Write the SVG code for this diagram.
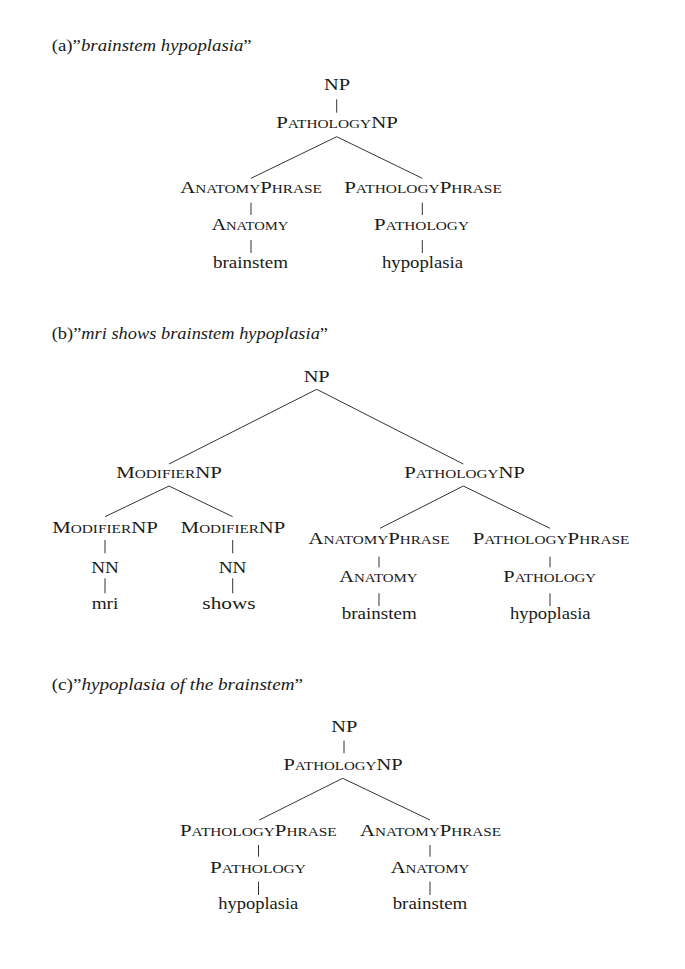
<svg xmlns="http://www.w3.org/2000/svg" width="685" height="969" viewBox="0 0 685 969">
<style>
text{font-family:"Liberation Serif","DejaVu Serif",serif;font-size:17px;fill:#1a1a1a;text-anchor:middle}
.sc{font-size:12.5px}
.title{text-anchor:start}
.it{font-style:italic}
#connectors line{stroke:#333;stroke-width:1}
</style>
<rect width="685" height="969" fill="#fff"/>
<g id="connectors">
<line x1="336.7" y1="99.3" x2="336.7" y2="112.7"/>
<line x1="336.7" y1="136.7" x2="251" y2="178.3"/>
<line x1="336.7" y1="136.7" x2="422.3" y2="178.3"/>
<line x1="251" y1="202.7" x2="251" y2="215"/>
<line x1="422.3" y1="202.7" x2="422.3" y2="215"/>
<line x1="251" y1="240" x2="251" y2="253"/>
<line x1="422.3" y1="240" x2="422.3" y2="253"/>
<line x1="316.7" y1="389.3" x2="169" y2="464"/>
<line x1="316.7" y1="389.3" x2="463.3" y2="464"/>
<line x1="169" y1="486" x2="105" y2="516.7"/>
<line x1="169" y1="486" x2="232.7" y2="516.7"/>
<line x1="105" y1="540" x2="105" y2="553.3"/>
<line x1="232.7" y1="540" x2="232.7" y2="553.3"/>
<line x1="105" y1="578.3" x2="105" y2="593.3"/>
<line x1="232.7" y1="578.3" x2="232.7" y2="593.3"/>
<line x1="463.3" y1="486" x2="380" y2="528.3"/>
<line x1="463.3" y1="486" x2="550" y2="528.3"/>
<line x1="379" y1="556.7" x2="379" y2="567.3"/>
<line x1="550" y1="556.7" x2="550" y2="567.3"/>
<line x1="379" y1="593.3" x2="379" y2="606"/>
<line x1="550" y1="593.3" x2="550" y2="606"/>
<line x1="344" y1="740.7" x2="344" y2="753.3"/>
<line x1="342.7" y1="778.3" x2="259.3" y2="820"/>
<line x1="342.7" y1="778.3" x2="430" y2="820"/>
<line x1="258.5" y1="845" x2="258.5" y2="856.7"/>
<line x1="430" y1="845" x2="430" y2="856.7"/>
<line x1="258.5" y1="881.7" x2="258.5" y2="895"/>
<line x1="430" y1="881.7" x2="430" y2="895"/>
</g>
<g id="title-a"><text class="title" x="51.7" y="51" textLength="200" lengthAdjust="spacingAndGlyphs">(a)”<tspan class="it">brainstem hypoplasia</tspan>”</text></g>
<g id="a-np"><text x="337" y="90" textLength="26" lengthAdjust="spacingAndGlyphs">NP</text></g>
<g id="a-pathologynp"><text x="337" y="128.3" textLength="121.7" lengthAdjust="spacingAndGlyphs">P<tspan class="sc">ATHOLOGY</tspan>NP</text></g>
<g id="a-anatomyphrase"><text x="251" y="193.3" textLength="141.7" lengthAdjust="spacingAndGlyphs">A<tspan class="sc">NATOMY</tspan>P<tspan class="sc">HRASE</tspan></text></g>
<g id="a-pathologyphrase"><text x="423" y="193.3" textLength="157.7" lengthAdjust="spacingAndGlyphs">P<tspan class="sc">ATHOLOGY</tspan>P<tspan class="sc">HRASE</tspan></text></g>
<g id="a-anatomy"><text x="250" y="230" textLength="76.7" lengthAdjust="spacingAndGlyphs">A<tspan class="sc">NATOMY</tspan></text></g>
<g id="a-pathology"><text x="421.5" y="230" textLength="95" lengthAdjust="spacingAndGlyphs">P<tspan class="sc">ATHOLOGY</tspan></text></g>
<g id="a-brainstem"><text x="250.5" y="268.3" textLength="75" lengthAdjust="spacingAndGlyphs">brainstem</text></g>
<g id="a-hypoplasia"><text x="422.5" y="268" textLength="81" lengthAdjust="spacingAndGlyphs">hypoplasia</text></g>
<g id="title-b"><text class="title" x="51.7" y="339" textLength="276.3" lengthAdjust="spacingAndGlyphs">(b)”<tspan class="it">mri shows brainstem hypoplasia</tspan>”</text></g>
<g id="b-np"><text x="316.7" y="382" textLength="26" lengthAdjust="spacingAndGlyphs">NP</text></g>
<g id="b-modifiernp"><text x="169" y="478.3" textLength="105.7" lengthAdjust="spacingAndGlyphs">M<tspan class="sc">ODIFIER</tspan>NP</text></g>
<g id="b-pathologynp"><text x="464.5" y="478.3" textLength="120.7" lengthAdjust="spacingAndGlyphs">P<tspan class="sc">ATHOLOGY</tspan>NP</text></g>
<g id="b-modifiernp-1"><text x="105" y="532.7" textLength="105.7" lengthAdjust="spacingAndGlyphs">M<tspan class="sc">ODIFIER</tspan>NP</text></g>
<g id="b-modifiernp-2"><text x="233" y="532.7" textLength="104.3" lengthAdjust="spacingAndGlyphs">M<tspan class="sc">ODIFIER</tspan>NP</text></g>
<g id="b-nn-1"><text x="105" y="573.3" textLength="27.7" lengthAdjust="spacingAndGlyphs">NN</text></g>
<g id="b-nn-2"><text x="232.5" y="573.3" textLength="27.7" lengthAdjust="spacingAndGlyphs">NN</text></g>
<g id="b-mri"><text x="105" y="609.3" textLength="26.7" lengthAdjust="spacingAndGlyphs">mri</text></g>
<g id="b-shows"><text x="229" y="609.3" textLength="53.3" lengthAdjust="spacingAndGlyphs">shows</text></g>
<g id="b-anatomyphrase"><text x="379" y="544.3" textLength="141" lengthAdjust="spacingAndGlyphs">A<tspan class="sc">NATOMY</tspan>P<tspan class="sc">HRASE</tspan></text></g>
<g id="b-pathologyphrase"><text x="551" y="544.3" textLength="156.7" lengthAdjust="spacingAndGlyphs">P<tspan class="sc">ATHOLOGY</tspan>P<tspan class="sc">HRASE</tspan></text></g>
<g id="b-anatomy"><text x="378.5" y="581.7" textLength="78.3" lengthAdjust="spacingAndGlyphs">A<tspan class="sc">NATOMY</tspan></text></g>
<g id="b-pathology"><text x="549.7" y="581.7" textLength="92.7" lengthAdjust="spacingAndGlyphs">P<tspan class="sc">ATHOLOGY</tspan></text></g>
<g id="b-brainstem"><text x="379.2" y="619.3" textLength="75" lengthAdjust="spacingAndGlyphs">brainstem</text></g>
<g id="b-hypoplasia"><text x="550.3" y="619.3" textLength="80.7" lengthAdjust="spacingAndGlyphs">hypoplasia</text></g>
<g id="title-c"><text class="title" x="51.7" y="690" textLength="251.3" lengthAdjust="spacingAndGlyphs">(c)”<tspan class="it">hypoplasia of the brainstem</tspan>”</text></g>
<g id="c-np"><text x="344.3" y="731.7" textLength="26" lengthAdjust="spacingAndGlyphs">NP</text></g>
<g id="c-pathologynp"><text x="343" y="770" textLength="119" lengthAdjust="spacingAndGlyphs">P<tspan class="sc">ATHOLOGY</tspan>NP</text></g>
<g id="c-pathologyphrase"><text x="258.3" y="836" textLength="156.7" lengthAdjust="spacingAndGlyphs">P<tspan class="sc">ATHOLOGY</tspan>P<tspan class="sc">HRASE</tspan></text></g>
<g id="c-anatomyphrase"><text x="430.5" y="836" textLength="141" lengthAdjust="spacingAndGlyphs">A<tspan class="sc">NATOMY</tspan>P<tspan class="sc">HRASE</tspan></text></g>
<g id="c-pathology"><text x="258" y="873.3" textLength="96" lengthAdjust="spacingAndGlyphs">P<tspan class="sc">ATHOLOGY</tspan></text></g>
<g id="c-anatomy"><text x="430" y="873.3" textLength="78.7" lengthAdjust="spacingAndGlyphs">A<tspan class="sc">NATOMY</tspan></text></g>
<g id="c-hypoplasia"><text x="258.3" y="909.3" textLength="80" lengthAdjust="spacingAndGlyphs">hypoplasia</text></g>
<g id="c-brainstem"><text x="430" y="909.3" textLength="74.7" lengthAdjust="spacingAndGlyphs">brainstem</text></g>
</svg>
